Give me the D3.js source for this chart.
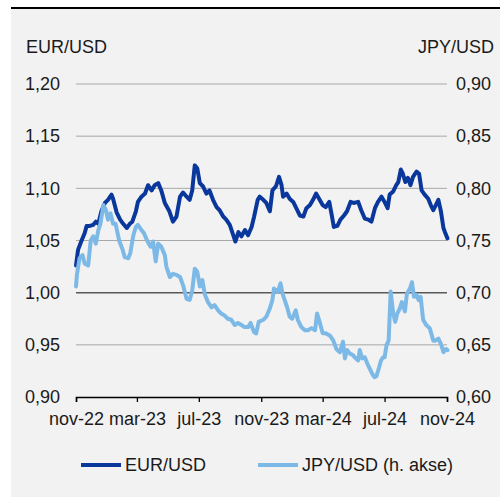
<!DOCTYPE html>
<html>
<head>
<meta charset="utf-8">
<script src="https://cdn.jsdelivr.net/npm/d3@7"></script>
<style>
  body { margin: 0; background: #fff; }
  svg { display: block; font-family: 'Liberation Sans', Arial, sans-serif; }
</style>
</head>
<body>
<div id="chart"></div>
<script>
// EUR/USD (left axis)
var eurDates = [
  '2022-11-01', '2022-11-05', '2022-11-12', '2022-11-18', '2022-11-22', '2022-11-28', '2022-12-05', '2022-12-10',
  '2022-12-15', '2022-12-21', '2022-12-28', '2023-01-03', '2023-01-10', '2023-01-13', '2023-01-20', '2023-01-27',
  '2023-02-02', '2023-02-09', '2023-02-15', '2023-02-20', '2023-02-27', '2023-03-03', '2023-03-10', '2023-03-17',
  '2023-03-23', '2023-03-30', '2023-04-05', '2023-04-12', '2023-04-18', '2023-04-25', '2023-05-04', '2023-05-11',
  '2023-05-18', '2023-05-25', '2023-05-31', '2023-06-07', '2023-06-13', '2023-06-18', '2023-06-23', '2023-06-28',
  '2023-07-03', '2023-07-09', '2023-07-16', '2023-07-22', '2023-07-29', '2023-08-05', '2023-08-11', '2023-08-18',
  '2023-08-24', '2023-08-31', '2023-09-07', '2023-09-11', '2023-09-17', '2023-09-23', '2023-09-30', '2023-10-06',
  '2023-10-13', '2023-10-18', '2023-10-25', '2023-10-29', '2023-11-05', '2023-11-11', '2023-11-18', '2023-11-23',
  '2023-11-30', '2023-12-06', '2023-12-11', '2023-12-14', '2023-12-21', '2023-12-27', '2024-01-03', '2024-01-09',
  '2024-01-16', '2024-01-23', '2024-01-29', '2024-02-05', '2024-02-11', '2024-02-17', '2024-02-23', '2024-03-01',
  '2024-03-07', '2024-03-14', '2024-03-19', '2024-03-23', '2024-03-30', '2024-04-05', '2024-04-12', '2024-04-18',
  '2024-04-25', '2024-05-01', '2024-05-10', '2024-05-16', '2024-05-23', '2024-05-30', '2024-06-05', '2024-06-12',
  '2024-06-18', '2024-06-25', '2024-07-01', '2024-07-07', '2024-07-11', '2024-07-18', '2024-07-24', '2024-07-28',
  '2024-08-02', '2024-08-06', '2024-08-11', '2024-08-16', '2024-08-21', '2024-08-26', '2024-09-02', '2024-09-07',
  '2024-09-12', '2024-09-18', '2024-09-25', '2024-09-30', '2024-10-05', '2024-10-10', '2024-10-15', '2024-10-20',
  '2024-10-25', '2024-10-28', '2024-11-02'
]
var eurValues = [
  1.026, 1.041, 1.050, 1.057, 1.064, 1.064, 1.065, 1.068,
  1.066, 1.078, 1.086, 1.089, 1.094, 1.090, 1.077, 1.070,
  1.066, 1.062, 1.066, 1.068, 1.078, 1.087, 1.092, 1.095,
  1.103, 1.098, 1.103, 1.105, 1.098, 1.086, 1.078, 1.068,
  1.073, 1.092, 1.096, 1.092, 1.089, 1.098, 1.122, 1.119,
  1.105, 1.102, 1.095, 1.098, 1.089, 1.082, 1.079, 1.073,
  1.070, 1.065, 1.055, 1.049, 1.058, 1.054, 1.060, 1.055,
  1.063, 1.073, 1.089, 1.092, 1.089, 1.086, 1.078, 1.098,
  1.102, 1.111, 1.103, 1.092, 1.095, 1.090, 1.087, 1.081,
  1.074, 1.073, 1.081, 1.084, 1.089, 1.095, 1.090, 1.084,
  1.082, 1.087, 1.074, 1.063, 1.064, 1.070, 1.074, 1.078,
  1.087, 1.086, 1.087, 1.079, 1.071, 1.070, 1.068, 1.081,
  1.087, 1.092, 1.087, 1.081, 1.094, 1.097, 1.103, 1.106,
  1.118, 1.114, 1.106, 1.110, 1.103, 1.111, 1.116, 1.114,
  1.098, 1.094, 1.090, 1.084, 1.079, 1.084, 1.089, 1.078,
  1.062, 1.058, 1.052
]

// JPY/USD (right axis)
var jpyDates = [
  '2022-11-01', '2022-11-03', '2022-11-08', '2022-11-14', '2022-11-18', '2022-11-25', '2022-11-30', '2022-12-05',
  '2022-12-10', '2022-12-15', '2022-12-19', '2022-12-25', '2022-12-30', '2023-01-03', '2023-01-08', '2023-01-13',
  '2023-01-18', '2023-01-25', '2023-02-01', '2023-02-05', '2023-02-12', '2023-02-16', '2023-02-22', '2023-02-27',
  '2023-03-03', '2023-03-10', '2023-03-15', '2023-03-21', '2023-03-28', '2023-04-02', '2023-04-07', '2023-04-12',
  '2023-04-18', '2023-04-25', '2023-04-28', '2023-05-05', '2023-05-11', '2023-05-18', '2023-05-25', '2023-05-31',
  '2023-06-07', '2023-06-13', '2023-06-18', '2023-06-23', '2023-06-28', '2023-07-03', '2023-07-08', '2023-07-13',
  '2023-07-19', '2023-07-26', '2023-08-01', '2023-08-08', '2023-08-14', '2023-08-21', '2023-08-27', '2023-09-03',
  '2023-09-10', '2023-09-16', '2023-09-23', '2023-09-29', '2023-10-06', '2023-10-11', '2023-10-18', '2023-10-22',
  '2023-10-27', '2023-11-05', '2023-11-11', '2023-11-18', '2023-11-23', '2023-11-26', '2023-12-01', '2023-12-04',
  '2023-12-09', '2023-12-13', '2023-12-17', '2023-12-22', '2023-12-27', '2024-01-01', '2024-01-08', '2024-01-12',
  '2024-01-19', '2024-01-26', '2024-02-01', '2024-02-08', '2024-02-15', '2024-02-19', '2024-02-24', '2024-03-01',
  '2024-03-07', '2024-03-15', '2024-03-22', '2024-03-28', '2024-04-04', '2024-04-10', '2024-04-14', '2024-04-18',
  '2024-04-23', '2024-04-30', '2024-05-03', '2024-05-10', '2024-05-13', '2024-05-18', '2024-05-23', '2024-05-28',
  '2024-06-02', '2024-06-07', '2024-06-11', '2024-06-15', '2024-06-20', '2024-06-24', '2024-06-28', '2024-07-01',
  '2024-07-05', '2024-07-09', '2024-07-13', '2024-07-18', '2024-07-22', '2024-07-26', '2024-07-31', '2024-08-04',
  '2024-08-10', '2024-08-14', '2024-08-20', '2024-08-24', '2024-08-28', '2024-09-02', '2024-09-06', '2024-09-10',
  '2024-09-15', '2024-09-21', '2024-09-28', '2024-10-05', '2024-10-09', '2024-10-15', '2024-10-20', '2024-10-25',
  '2024-10-30', '2024-11-02'
]
var jpyValues = [
  0.706, 0.718, 0.733, 0.736, 0.728, 0.726, 0.750, 0.754,
  0.747, 0.760, 0.766, 0.784, 0.779, 0.770, 0.776, 0.766,
  0.766, 0.750, 0.741, 0.734, 0.733, 0.738, 0.755, 0.763,
  0.765, 0.760, 0.757, 0.750, 0.744, 0.749, 0.730, 0.747,
  0.744, 0.736, 0.725, 0.715, 0.718, 0.717, 0.715, 0.707,
  0.694, 0.693, 0.702, 0.723, 0.720, 0.706, 0.712, 0.698,
  0.691, 0.686, 0.688, 0.683, 0.680, 0.678, 0.675, 0.674,
  0.669, 0.671, 0.669, 0.667, 0.667, 0.671, 0.662, 0.661,
  0.672, 0.674, 0.677, 0.685, 0.693, 0.704, 0.702, 0.701,
  0.709, 0.699, 0.693, 0.686, 0.677, 0.675, 0.683, 0.674,
  0.667, 0.664, 0.664, 0.666, 0.664, 0.680, 0.672, 0.661,
  0.661, 0.659, 0.654, 0.646, 0.643, 0.653, 0.637, 0.645,
  0.642, 0.640, 0.638, 0.635, 0.645, 0.637, 0.638, 0.632,
  0.627, 0.622, 0.619, 0.620, 0.628, 0.635, 0.638, 0.638,
  0.650, 0.654, 0.701, 0.680, 0.672, 0.680, 0.685, 0.691,
  0.682, 0.699, 0.704, 0.710, 0.696, 0.698, 0.693, 0.696,
  0.674, 0.669, 0.666, 0.654, 0.654, 0.656, 0.651, 0.643,
  0.646, 0.645
]

var xTickDates = ['2022-11-01', '2023-03-01', '2023-07-01', '2023-11-01', '2024-03-01', '2024-07-01', '2024-11-01']
var xTickLabels = ['nov-22', 'mar-23', 'jul-23', 'nov-23', 'mar-24', 'jul-24', 'nov-24']
var leftTicks = [0.90, 0.95, 1.00, 1.05, 1.10, 1.15, 1.20]
var rightTicks = [0.60, 0.65, 0.70, 0.75, 0.80, 0.85, 0.90]

var W = 500
var H = 498
var plotLeft = 76, plotRight = 447, plotTop = 84, plotBottom = 397
var darkBlue = '#0a379c'
var lightBlue = '#7db9e7'
var fs = 18

var parse = d3.timeParse('%Y-%m-%d')
var fmt = function (v) { return d3.format('.2f')(v).replace('.', ',') }

var x = d3.scaleTime()
  .domain([parse('2022-11-01'), parse('2024-11-01')])
  .range([plotLeft, plotRight])
var yL = d3.scaleLinear().domain([0.90, 1.20]).range([plotBottom, plotTop])
var yR = d3.scaleLinear().domain([0.60, 0.90]).range([plotBottom, plotTop])

var svg = d3.select('#chart').append('svg')
  .attr('width', W)
  .attr('height', H)
  .style('font-family', "'Liberation Sans', Arial, sans-serif")

// panel + top rule
svg.append('rect').attr('x', 11).attr('y', 9).attr('width', W - 11).attr('height', 488).attr('fill', '#f2f2f2')
svg.append('line').attr('x1', 11).attr('x2', W).attr('y1', 8).attr('y2', 8)
  .attr('stroke', '#000').attr('stroke-width', 2.2)

// gridlines
leftTicks.forEach(function (t) {
  if (t === 0.90) return
  svg.append('line')
    .attr('x1', plotLeft).attr('x2', plotRight)
    .attr('y1', yL(t)).attr('y2', yL(t))
    .attr('stroke', t === 1.00 ? '#595959' : '#a8a8a8')
    .attr('stroke-width', t === 1.00 ? 1.5 : 1)
})

// x axis
var xAxis = d3.axisBottom(x)
  .tickValues(xTickDates.map(parse))
  .tickSize(5)
  .tickFormat(function (d, i) { return xTickLabels[i] })
var gx = svg.append('g').attr('transform', 'translate(0,' + plotBottom + ')').call(xAxis)
gx.select('.domain').attr('stroke', '#000').attr('stroke-width', 1.5)
gx.selectAll('.tick line').attr('stroke', '#000').attr('stroke-width', 1.3)
gx.selectAll('.tick text').attr('y', 22).attr('dy', '0.32em')

// y axes (labels only)
var gl = svg.append('g').attr('transform', 'translate(' + plotLeft + ',0)')
  .call(d3.axisLeft(yL).tickValues(leftTicks).tickSize(0).tickPadding(16).tickFormat(fmt))
gl.select('.domain').remove()
var gr = svg.append('g').attr('transform', 'translate(' + plotRight + ',0)')
  .call(d3.axisRight(yR).tickValues(rightTicks).tickSize(0).tickPadding(9).tickFormat(fmt))
gr.select('.domain').remove()
svg.selectAll('.tick text')
  .attr('fill', '#1a1a1a')
  .style('font-size', fs + 'px')
  .style('font-family', "'Liberation Sans', Arial, sans-serif")

// axis titles
svg.append('text').attr('x', 26).attr('y', 53).text('EUR/USD')
  .attr('fill', '#1a1a1a').style('font-size', fs + 'px')
svg.append('text').attr('x', 494).attr('y', 53).attr('text-anchor', 'end').text('JPY/USD')
  .attr('fill', '#1a1a1a').style('font-size', fs + 'px')

// series
var eur = eurDates.map(function (d, i) { return { date: parse(d), value: eurValues[i] } })
var jpy = jpyDates.map(function (d, i) { return { date: parse(d), value: jpyValues[i] } })

var lineL = d3.line().x(function (d) { return x(d.date) }).y(function (d) { return yL(d.value) })
var lineR = d3.line().x(function (d) { return x(d.date) }).y(function (d) { return yR(d.value) })

svg.append('path').datum(eur).attr('d', lineL)
  .attr('fill', 'none').attr('stroke', darkBlue).attr('stroke-width', 4)
  .attr('stroke-linejoin', 'round').attr('stroke-linecap', 'round')
svg.append('path').datum(jpy).attr('d', lineR)
  .attr('fill', 'none').attr('stroke', lightBlue).attr('stroke-width', 4)
  .attr('stroke-linejoin', 'round').attr('stroke-linecap', 'round')

// legend
var legend = [
  { label: 'EUR/USD', color: darkBlue, x: 81 },
  { label: 'JPY/USD (h. akse)', color: lightBlue, x: 258 }
]
legend.forEach(function (o) {
  svg.append('line').attr('x1', o.x).attr('x2', o.x + 40).attr('y1', 465).attr('y2', 465)
    .attr('stroke', o.color).attr('stroke-width', 4)
  svg.append('text').attr('x', o.x + 44).attr('y', 471).text(o.label)
    .attr('fill', '#1a1a1a').style('font-size', fs + 'px')
})
</script>
</body>
</html>
